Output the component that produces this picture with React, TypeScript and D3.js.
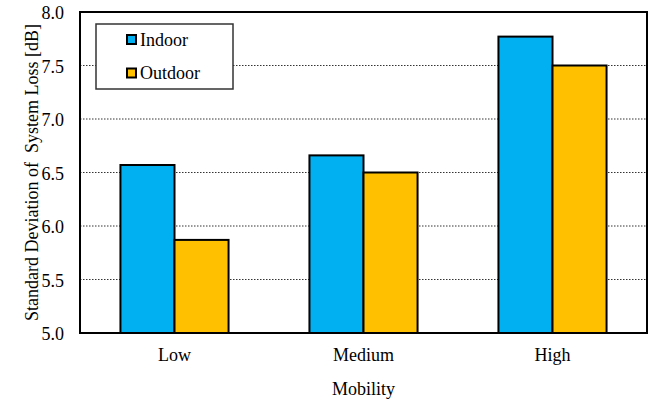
import React from "react";
import * as d3 from "d3";

const categories = ["Low", "Medium", "High"];
const seriesNames = ["Indoor", "Outdoor"];
const indoorValues = [6.57, 6.66, 7.77];
const outdoorValues = [5.87, 6.5, 7.5];
const yTicks = [5.0, 5.5, 6.0, 6.5, 7.0, 7.5, 8.0];
const colors = ["#00B0F0", "#FFC000"];

export default function App() {
  const W = 656, H = 403;
  const left = 80, right = 647, top = 12, bottom = 333;
  const font = "Liberation Serif, Times New Roman, serif";
  const x = d3.scaleBand().domain(categories).range([left, right]).padding(0);
  const y = d3.scaleLinear().domain([5, 8]).range([bottom, top]);
  const barW = x.bandwidth() * 0.286;
  const series = [indoorValues, outdoorValues];

  return (
    <svg width={W} height={H} style={{ position: "absolute", left: 0, top: 0 }}>
      <rect x={0} y={0} width={W} height={H} fill="#fff" />
      {yTicks.slice(1, -1).map((t) => (
        <line key={t} x1={left} x2={right} y1={y(t)} y2={y(t)} stroke="#333" strokeWidth={1} strokeDasharray="1.5,1.5" />
      ))}
      {categories.map((c, i) => {
        const cx = (x(c) as number) + x.bandwidth() / 2;
        return series.map((s, j) => (
          <rect
            key={c + j}
            x={cx - barW + j * barW}
            y={y(s[i])}
            width={barW}
            height={bottom - y(s[i])}
            fill={colors[j]}
            stroke="#000"
            strokeWidth={2}
          />
        ));
      })}
      <rect x={left} y={top} width={right - left} height={bottom - top} fill="none" stroke="#000" strokeWidth={2} />
      <g style={{ fontFamily: font }} fill="#000">
        {yTicks.map((t) => (
          <text key={t} x={64} y={y(t) + 7} textAnchor="end" fontSize={18}>
            {t.toFixed(1)}
          </text>
        ))}
        {categories.map((c) => (
          <text key={c} x={(x(c) as number) + x.bandwidth() / 2} y={361} textAnchor="middle" fontSize={18}>
            {c}
          </text>
        ))}
        <text x={(left + right) / 2} y={395} textAnchor="middle" fontSize={18}>
          Mobility
        </text>
        <text
          transform={`translate(38, ${(top + bottom) / 2}) rotate(-90)`}
          textAnchor="middle"
          fontSize={18}
          style={{ whiteSpace: "pre" }}
        >
          Standard Deviation of  System Loss [dB]
        </text>
        <rect x={96} y={24} width={137} height={65} fill="#fff" stroke="#333" strokeWidth={1.5} />
        {seriesNames.map((n, j) => (
          <g key={n}>
            <rect x={127} y={35 + j * 33.5} width={9} height={9} fill={colors[j]} stroke="#000" strokeWidth={2} />
            <text x={140} y={46 + j * 33} fontSize={18}>
              {n}
            </text>
          </g>
        ))}
      </g>
    </svg>
  );
}
